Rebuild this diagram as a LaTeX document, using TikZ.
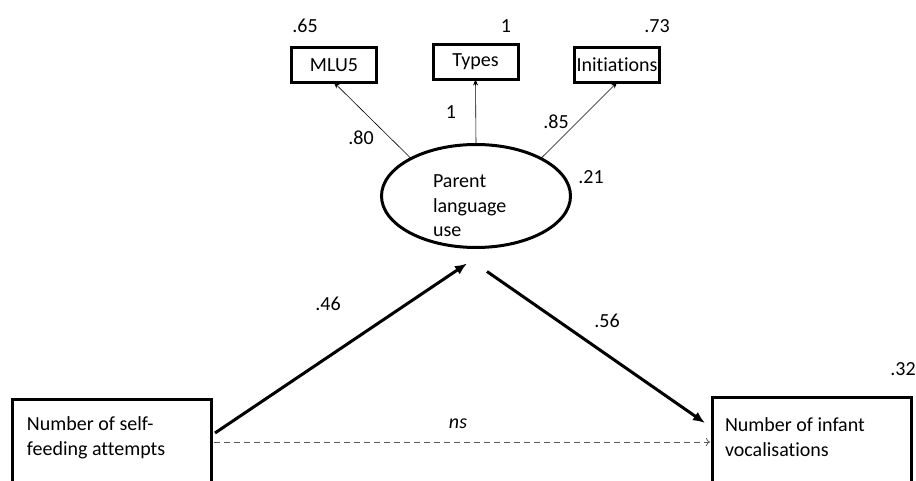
\documentclass[tikz,border=0pt]{standalone}
\usepackage{fontspec}
\setmainfont{Carlito}[Ligatures=NoCommon]
\usetikzlibrary{arrows.meta,calc,shapes.geometric}
\begin{document}
\begin{tikzpicture}[x=1pt,y=-1pt,
  every node/.style={font=\fontsize{20}{24.5}\selectfont, inner sep=0pt, outer sep=0pt},
  obs/.style={draw, line width=3pt, minimum width=85pt, minimum height=35pt},
  latent/.style={draw, ellipse, line width=3pt, minimum width=189pt, minimum height=103pt},
  bigbox/.style={draw, line width=3pt, anchor=north west, minimum width=199pt, minimum height=150pt},
  boxtext/.style={anchor=north west, align=left},
  load/.style={line width=0.6pt, -{Stealth[length=6pt,width=5pt]}},
  causal/.style={line width=3pt, -{Latex[length=12pt,width=10pt]}},
  nspath/.style={line width=0.8pt, dash pattern=on 6pt off 4pt, draw=black!65, -{To[length=4pt,width=8pt]}}
]
\useasboundingbox (0,0) rectangle (916,481);
\clip (0,0) rectangle (916,481);

% indicators
\node[obs] (mlu)   at (334,65)   {MLU5};
\node[obs] (types) at (475.5,62) {Types};
\node[obs] (init)  at (617,65)   {Initiations};

% latent variable
\node[latent] (ple) at (476,196) {};
\node[boxtext] (pletext) at (433,175) {Parent\\language\\use};

% observed predictor and outcome (bottoms run off the page)
\node[bigbox] (feed) at (12,399) {};
\node[boxtext] (feedtext) at ([shift={(15,18)}]feed.north west) {Number of self-\\feeding attempts};
\node[bigbox] (inf) at (712,397) {};
\node[boxtext] (inftext) at ([shift={(13,21)}]inf.north west) {Number of infant\\vocalisations};

% residual variances
\node (r65) at (305,26) {.65};
\node (r1)  at (506,26) {1};
\node (r73) at (657,26) {.73};
\node (r21) at (591,177) {.21};
\node (r32) at (903,369) {.32};

% loadings
\draw[load] (ple.150) -- (mlu.south);
\draw[load] (ple.north) -- (types.south);
\draw[load] (ple.30) -- (init.south);
\node (l80) at (361,138) {.80};
\node (l1)  at (451,112) {1};
\node (l85) at (556,122) {.85};

% structural paths
\coordinate (aS) at ($(feed.north east)+(4,34)$);
\coordinate (aE) at ($(ple.south)+(-9,16)$);
\coordinate (bS) at ($(ple.south)+(11,24)$);
\coordinate (bE) at ($(inf.north west)+(-7,26)$);
\coordinate (cS) at ($(feed.north east)+(3,43)$);
\coordinate (cE) at ($(inf.north west)+(-2,45)$);
\draw[causal] (aS) -- (aE);
\draw[causal] (bS) -- (bE);
\draw[nspath] (cS) -- (cE);
\node (p46) at (328,304) {.46};
\node (p56) at (607,321) {.56};
\node (pns) at (458,424) {\itshape ns};
\end{tikzpicture}
\end{document}
